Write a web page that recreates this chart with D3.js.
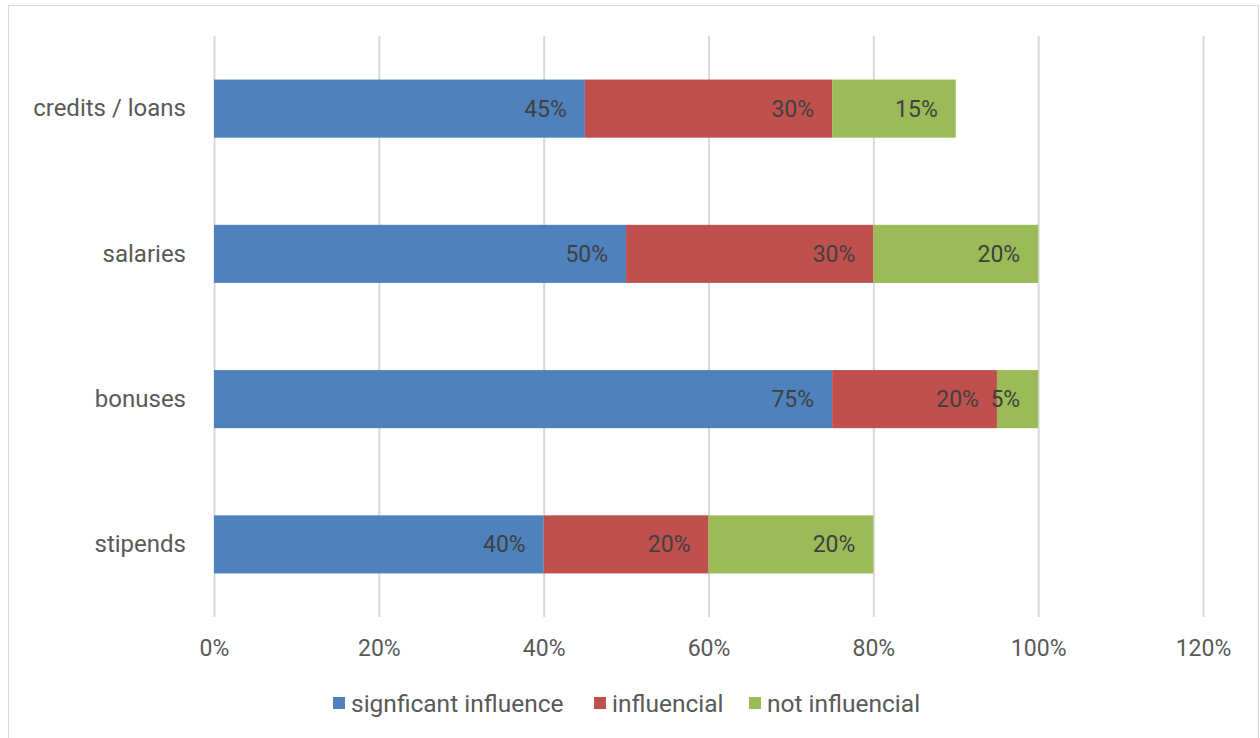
<!DOCTYPE html>
<html>
<head>
<meta charset="utf-8">
<script src="https://cdn.jsdelivr.net/npm/d3@7"></script>
<style>
  html, body { margin: 0; padding: 0; background: #fff; }
  svg { display: block; font-family: Roboto, "Noto Sans", sans-serif; }
</style>
</head>
<body>
<svg id="chart" width="1260" height="738"></svg>
<script>
// Funding sources, top to bottom
const categories = ["credits / loans", "salaries", "bonuses", "stipends"];
const seriesNames = ["signficant influence", "influencial", "not influencial"];
const significant = [0.45, 0.50, 0.75, 0.40];
const influencial = [0.30, 0.30, 0.20, 0.20];
const notInfluencial = [0.15, 0.20, 0.05, 0.20];
const tickValues = [0, 0.2, 0.4, 0.6, 0.8, 1.0, 1.2];
const colors = ["#4F81BD", "#C0504D", "#9BBB59"];

const svg = d3.select("#chart");

// chart frame
svg.append("rect")
  .attr("x", 8.5).attr("y", 5.5)
  .attr("width", 1250).attr("height", 740)
  .attr("fill", "#fff").attr("stroke", "#d9d9d9").attr("stroke-width", 1);

const plot = { left: 214, right: 1203, top: 36, bottom: 617 };

const x = d3.scaleLinear().domain([0, 1.2]).range([plot.left, plot.right]);
const y = d3.scaleBand().domain(categories).range([plot.top, plot.bottom]).paddingInner(0.6).paddingOuter(0.3);

// vertical gridlines and percentage ticks
const xAxis = d3.axisBottom(x).tickValues(tickValues).tickFormat(d3.format(".0%")).tickSize(-(plot.bottom - plot.top));
const gx = svg.append("g").attr("transform", `translate(0,${plot.bottom})`).call(xAxis);
gx.select(".domain").remove();
gx.selectAll(".tick line").attr("stroke", "#d9d9d9").attr("stroke-width", 2);
gx.selectAll(".tick text")
  .attr("y", 31).attr("dy", "0.35em")
  .attr("fill", "#595959").attr("font-size", 23).attr("font-family", "Roboto");

// stacked segments
const rows = categories.map((c, i) => ({
  cat: c,
  [seriesNames[0]]: significant[i],
  [seriesNames[1]]: influencial[i],
  [seriesNames[2]]: notInfluencial[i]
}));
const stack = d3.stack().keys(seriesNames)(rows);

const layers = svg.append("g").selectAll("g").data(stack).join("g")
  .attr("fill", (d, i) => colors[i]);

layers.selectAll("rect").data(d => d).join("rect")
  .attr("x", d => x(d[0]))
  .attr("y", d => y(d.data.cat))
  .attr("width", d => x(d[1]) - x(d[0]))
  .attr("height", y.bandwidth());

// value labels, inside the end of each segment
svg.append("g").selectAll("g").data(stack).join("g")
  .selectAll("text").data(d => d).join("text")
  .attr("x", d => x(d[1]) - 18)
  .attr("y", d => y(d.data.cat) + y.bandwidth() / 2)
  .attr("dy", "0.35em")
  .attr("text-anchor", "end")
  .attr("fill", "#404040")
  .attr("font-size", 23)
  .text(d => d3.format(".0%")(d[1] - d[0]));

// category labels
const yAxis = d3.axisLeft(y).tickSize(0).tickPadding(0);
const gy = svg.append("g").attr("transform", `translate(${plot.left - 28},0)`).call(yAxis);
gy.select(".domain").remove();
gy.selectAll(".tick text")
  .attr("fill", "#595959").attr("font-size", 24).attr("font-family", "Roboto");

// legend
const legendItems = [
  { name: seriesNames[0], x: 333 },
  { name: seriesNames[1], x: 594 },
  { name: seriesNames[2], x: 749 }
];
const legend = svg.append("g").selectAll("g").data(legendItems).join("g")
  .attr("transform", d => `translate(${d.x},703)`);
legend.append("rect")
  .attr("x", 0).attr("y", -6).attr("width", 12).attr("height", 12)
  .attr("fill", (d, i) => colors[i]);
legend.append("text")
  .attr("x", 18).attr("dy", "0.35em")
  .attr("fill", "#595959").attr("font-size", 24.5)
  .text(d => d.name);
</script>
</body>
</html>
